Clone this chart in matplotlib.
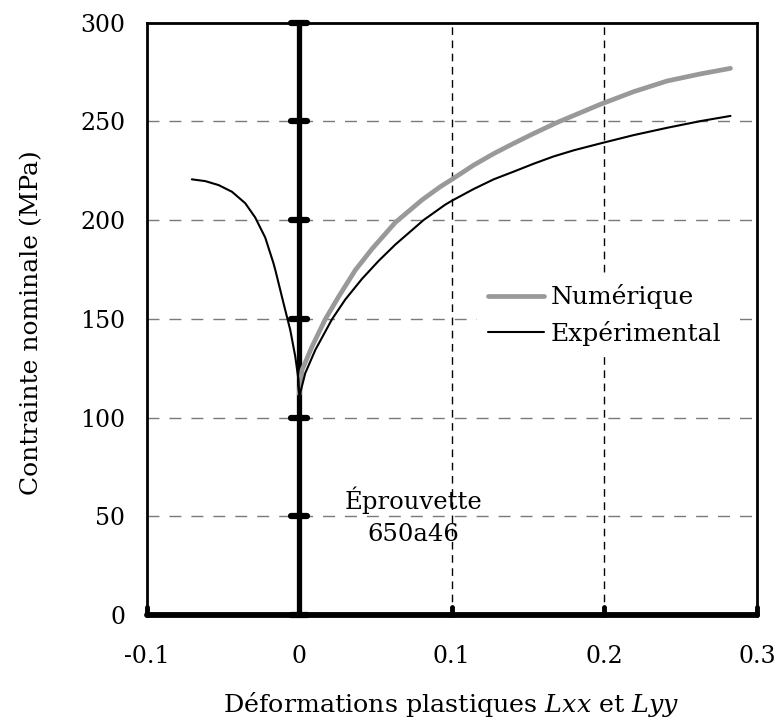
import matplotlib
matplotlib.use("Agg")
import matplotlib.pyplot as plt
from matplotlib.markers import MarkerStyle

plt.rcParams['font.family'] = ['DejaVu Serif']
plt.rcParams['mathtext.fontset'] = 'dejavuserif'

# Data
exp_left_x = [-0.0704, -0.0616, -0.0529, -0.0441, -0.0354, -0.0289, -0.0223, -0.0169,
              -0.0157, -0.0103, -0.0059, -0.0026, -0.0005, 0.0]
exp_left_y = [220.6, 219.7, 217.7, 214.3, 208.5, 201.3, 191.1, 178.1,
              174.7, 157.8, 144.3, 130.8, 119.0, 110.5]
exp_right_x = [0.0, 0.0039, 0.0105, 0.0214, 0.0302, 0.0411, 0.052, 0.063, 0.0815,
               0.0957, 0.1001, 0.1143, 0.1274, 0.1405, 0.1536, 0.1667, 0.1799, 0.1974,
               0.2192, 0.2411, 0.263, 0.2826]
exp_right_y = [110.5, 122.4, 134.2, 149.7, 159.8, 170.2, 179.3, 187.6, 200.0,
               207.8, 209.8, 215.7, 220.6, 224.5, 228.5, 232.2, 235.3, 238.8,
               243.0, 246.7, 250.1, 252.7]
num_x = [0.0, 0.0018, 0.0083, 0.017, 0.0258, 0.0367, 0.0477, 0.063, 0.0805,
         0.0925, 0.1001, 0.1143, 0.1274, 0.1405, 0.1536, 0.169, 0.1974,
         0.2192, 0.2411, 0.263, 0.2826]
num_y = [112.0, 124.0, 135.8, 149.7, 161.2, 174.6, 185.4, 198.8, 210.2,
         216.9, 220.6, 227.8, 233.6, 238.8, 243.8, 249.4, 258.6,
         265.0, 270.4, 274.0, 276.8]

x_ticks = [-0.1, 0, 0.1, 0.2, 0.3]
x_tick_labels = ['-0.1', '0', '0.1', '0.2', '0.3']
y_ticks = [0, 50, 100, 150, 200, 250, 300]

fig = plt.figure(figsize=(7.79, 7.22), dpi=100)
ax = fig.add_axes([0.1883, 0.1482, 0.7835, 0.8206])

ax.set_xlim(-0.1, 0.3)
ax.set_ylim(0, 300)
ax.set_xticks(x_ticks)
ax.set_xticklabels(x_tick_labels)
ax.set_yticks(y_ticks)
ax.tick_params(axis='both', length=0, labelsize=17)
ax.tick_params(axis='y', pad=15.5)
ax.tick_params(axis='x', pad=21.5)

# grid
for yv in y_ticks[1:-1]:
    ax.axhline(yv, color='#7a7a7a', lw=1, ls=(0, (8.6, 7.2)), zorder=1)
for xv in x_ticks[2:-1]:
    ax.axvline(xv, color='black', lw=1, ls=(0, (5.5, 4)), zorder=1)

for s in ['left', 'top', 'right']:
    ax.spines[s].set_linewidth(2)
ax.spines['bottom'].set_visible(False)

# axis lines through origin
ax.axhline(0, color='black', lw=4.2, zorder=3, clip_on=False, solid_capstyle='round')
ax.axvline(0, color='black', lw=3.8, zorder=3)
hm = MarkerStyle('_', capstyle='round')
ax.plot([0] * len(y_ticks), y_ticks, ls='none', marker=hm,
        ms=12, mew=4.5, color='black', zorder=4, clip_on=False)
tm = MarkerStyle(2, capstyle='round')
ax.plot([-0.1, 0.1, 0.2, 0.3], [0, 0, 0, 0], ls='none', marker=tm,
        ms=5.5, mew=3.5, color='black', zorder=4, clip_on=False)

ax.plot(num_x, num_y, color='#999999', lw=3.4, zorder=5, label='Numérique',
        solid_capstyle='round', solid_joinstyle='round')
ax.plot(exp_right_x, exp_right_y, color='black', lw=1.5, zorder=6, label='Expérimental',
        solid_capstyle='round', solid_joinstyle='round')
ax.plot(exp_left_x, exp_left_y, color='black', lw=1.5, zorder=6,
        solid_capstyle='round', solid_joinstyle='round')

leg = ax.legend(loc='upper left', bbox_to_anchor=(0.541, 0.577), borderaxespad=0,
                frameon=True, fontsize=18, handlelength=2.25, handletextpad=0.25,
                borderpad=0.45, labelspacing=0.45)
leg.get_frame().set_edgecolor('none')
leg.get_frame().set_facecolor('white')
leg.get_frame().set_alpha(1)
leg.get_frame().set_boxstyle('square', pad=0)
leg.set_zorder(7)

ax.text(0.0748, 50, 'Éprouvette\n650a46', ha='center', va='center', fontsize=17.5,
        linespacing=1.45, zorder=7)

ax.set_ylabel('Contrainte nominale (MPa)', fontsize=18)
ax.yaxis.set_label_coords(-0.170, 0.494)
ax.set_xlabel('Déformations plastiques $Lxx$ et $Lyy$', fontsize=18.3)
ax.xaxis.set_label_coords(0.499, -0.126)

fig.savefig('out.png', dpi=100)
